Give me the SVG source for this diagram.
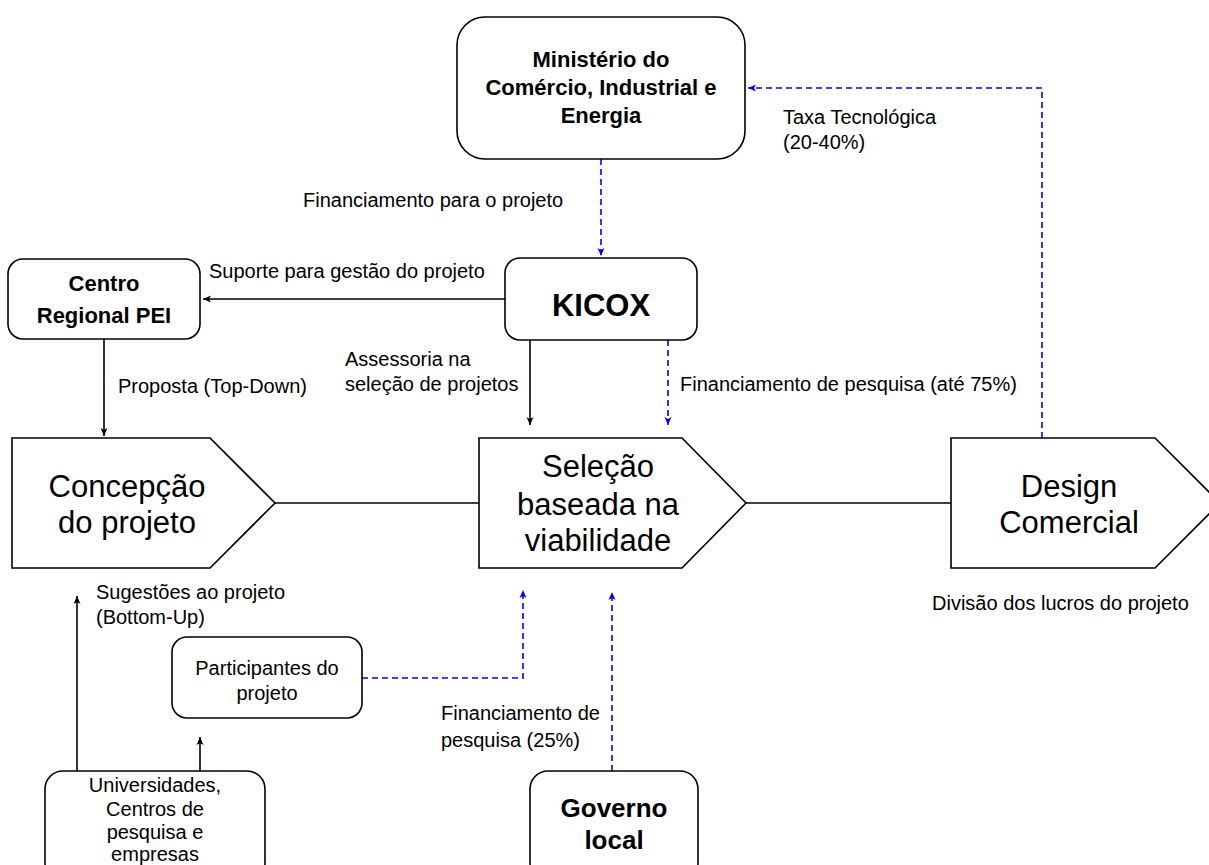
<svg xmlns="http://www.w3.org/2000/svg" width="1209" height="865" viewBox="0 0 1209 865">
<defs>
<marker id="ak" markerWidth="10" markerHeight="10" refX="9" refY="5" orient="auto" markerUnits="userSpaceOnUse"><path d="M1,1.5 L9,5 L1,8.5 L3,5 Z" fill="#000"/></marker>
<marker id="ab" markerWidth="10" markerHeight="10" refX="9" refY="5" orient="auto" markerUnits="userSpaceOnUse"><path d="M1,1.5 L9,5 L1,8.5 L3,5 Z" fill="#0000ff"/></marker>
</defs>
<style>
text{font-family:"Liberation Sans",Arial,sans-serif;fill:#000}
.box{fill:#fff;stroke:#000;stroke-width:1.6}
.lbl{font-size:20px}
.nb{font-size:22px;font-weight:bold;text-anchor:middle}
.nn{font-size:20px;text-anchor:middle}
.big{font-size:31px;text-anchor:middle}
.s{fill:none;stroke:#000;stroke-width:1.6}
.d{fill:none;stroke:#0000ff;stroke-width:1.6;stroke-dasharray:6 4}
</style>
<rect width="1209" height="865" fill="#fff"/>
<g id="connectors">
<path class="d" d="M601,159 V256" marker-end="url(#ab)"/>
<path class="d" d="M1042,438 V88 H748" marker-end="url(#ab)"/>
<path class="s" d="M505,299 H203" marker-end="url(#ak)"/>
<path class="s" d="M104,339 V436" marker-end="url(#ak)"/>
<path class="s" d="M530,340 V425" marker-end="url(#ak)"/>
<path class="d" d="M668,340 V425" marker-end="url(#ab)"/>
<path class="s" d="M274,503 H479"/>
<path class="s" d="M746,503 H951"/>
<path class="s" d="M77,771 V596" marker-end="url(#ak)"/>
<path class="s" d="M200,771 V737" marker-end="url(#ak)"/>
<path class="d" d="M362,678 H523 V590" marker-end="url(#ab)"/>
<path class="d" d="M612,771 V592" marker-end="url(#ab)"/>
<text class="lbl" x="303" y="207">Financiamento para o projeto</text>
<text class="lbl" x="783" y="124">Taxa Tecnológica</text>
<text class="lbl" x="783" y="149">(20-40%)</text>
<text class="lbl" x="209" y="278">Suporte para gestão do projeto</text>
<text class="lbl" x="118" y="393">Proposta (Top-Down)</text>
<text class="lbl" x="345" y="366">Assessoria na</text>
<text class="lbl" x="345" y="391">seleção de projetos</text>
<text class="lbl" x="680" y="391">Financiamento de pesquisa (até 75%)</text>
<text class="lbl" x="932" y="610">Divisão dos lucros do projeto</text>
<text class="lbl" x="96" y="599">Sugestões ao projeto</text>
<text class="lbl" x="96" y="624">(Bottom-Up)</text>
<text class="lbl" x="441" y="720">Financiamento de</text>
<text class="lbl" x="441" y="747">pesquisa (25%)</text>
</g>
<g id="ministerio">
<rect class="box" x="457" y="17" width="288" height="142" rx="28"/>
<text class="nb" x="601" y="67">Ministério do</text>
<text class="nb" x="601" y="95">Comércio, Industrial e</text>
<text class="nb" x="601" y="123">Energia</text>
</g>
<g id="kicox">
<rect class="box" x="505" y="258" width="192" height="82" rx="15"/>
<text x="601" y="316" style="font-size:31px;font-weight:bold;text-anchor:middle">KICOX</text>
</g>
<g id="centro">
<rect class="box" x="8" y="259" width="192" height="80" rx="15"/>
<text class="nb" x="104" y="291">Centro</text>
<text class="nb" x="104" y="323">Regional PEI</text>
</g>
<g id="concepcao">
<path class="box" d="M12,438 H210 L275,503 L210,568 H12 Z"/>
<text class="big" x="127" y="497">Concepção</text>
<text class="big" x="127" y="533">do projeto</text>
</g>
<g id="selecao">
<path class="box" d="M479,438 H682 L746,503 L682,568 H479 Z"/>
<text class="big" x="598" y="477">Seleção</text>
<text class="big" x="598" y="515">baseada na</text>
<text class="big" x="598" y="551">viabilidade</text>
</g>
<g id="design">
<path class="box" d="M951,438 H1155 L1220,503 L1155,568 H951 Z"/>
<text class="big" x="1069" y="497">Design</text>
<text class="big" x="1069" y="533">Comercial</text>
</g>
<g id="participantes">
<rect class="box" x="172" y="637" width="190" height="81" rx="15"/>
<text class="nn" x="267" y="675">Participantes do</text>
<text class="nn" x="267" y="700">projeto</text>
</g>
<g id="universidades">
<rect class="box" x="45" y="771" width="220" height="110" rx="18"/>
<text class="nn" x="155" y="792">Universidades,</text>
<text class="nn" x="155" y="816">Centros de</text>
<text class="nn" x="155" y="839">pesquisa e</text>
<text class="nn" x="155" y="861">empresas</text>
</g>
<g id="governo">
<rect class="box" x="530" y="771" width="168" height="110" rx="18"/>
<text x="614" y="817" style="font-size:26px;font-weight:bold;text-anchor:middle">Governo</text>
<text x="614" y="849" style="font-size:26px;font-weight:bold;text-anchor:middle">local</text>
</g>
</svg>
